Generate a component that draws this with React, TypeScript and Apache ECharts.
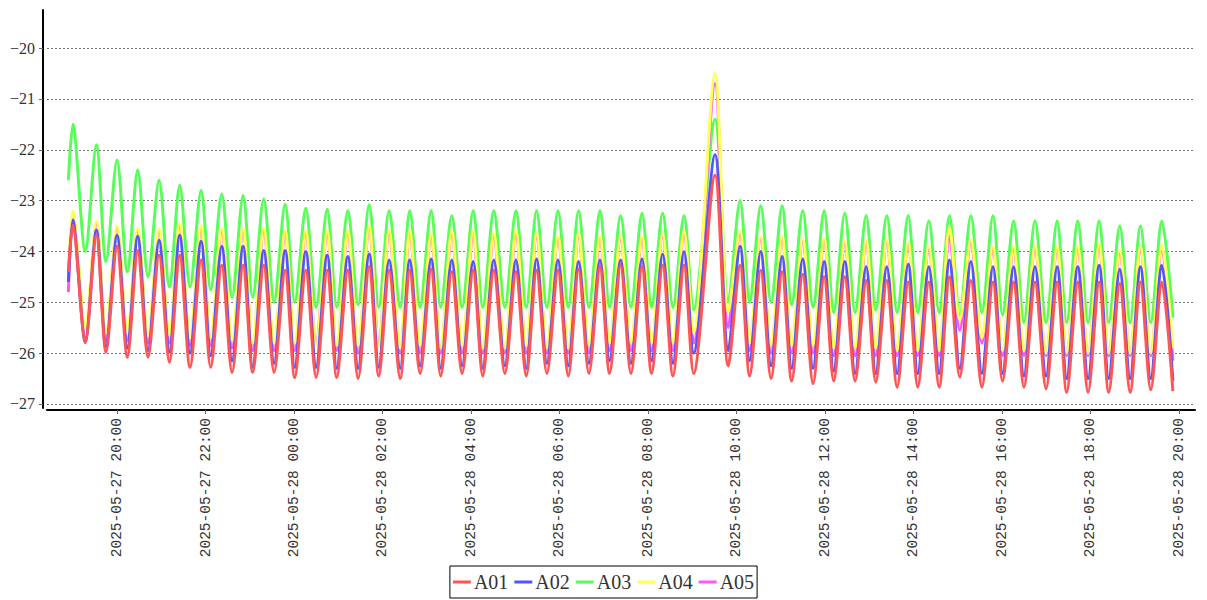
import React, { useEffect, useRef } from "react";
import * as echarts from "echarts";

// minutes after 2025-05-27 20:00
const times = [
  -66, -60, -43, -28, -15, 0, 14, 28, 42, 57,
  71, 85, 99, 114, 127, 142, 156, 171, 184, 199,
  213, 228, 241, 256, 270, 285, 298, 313, 327, 342,
  355, 369, 384, 397, 411, 426, 439, 454, 468, 483,
  496, 511, 526, 541, 555, 569, 583, 598, 612, 626,
  640, 655, 668, 683, 697, 712, 725, 740, 754, 769,
  782, 811, 829, 845, 858, 873, 887, 902, 915, 930,
  944, 959, 972, 987, 1001, 1016, 1029, 1044, 1058, 1073,
  1086, 1101, 1115, 1129, 1143, 1158, 1173, 1188, 1201, 1216,
  1230, 1245, 1260, 1275, 1288, 1303, 1317, 1332, 1345, 1360,
  1374, 1388, 1402, 1417, 1432,
];

const a01 = [
  -24.4, -23.48, -25.79, -23.68, -25.98, -23.9, -26.08, -23.98, -26.08, -24.07,
  -26.18, -24.07, -26.28, -24.17, -26.28, -24.27, -26.38, -24.27, -26.38, -24.27,
  -26.38, -24.37, -26.48, -24.37, -26.48, -24.37, -26.48, -24.37, -26.5, -24.3,
  -26.45, -24.37, -26.5, -24.37, -26.4, -24.35, -26.45, -24.4, -26.4, -24.37,
  -26.45, -24.37, -26.4, -24.4, -26.45, -24.37, -26.4, -24.37, -26.45, -24.35,
  -26.4, -24.3, -26.4, -24.27, -26.4, -24.3, -26.4, -24.27, -26.45, -24.27,
  -26.4, -22.5, -26.25, -24.27, -26.45, -24.37, -26.5, -24.4, -26.55, -24.45,
  -26.6, -24.5, -26.55, -24.5, -26.55, -24.57, -26.57, -24.57, -26.67, -24.6,
  -26.67, -24.6, -26.67, -24.5, -26.47, -24.57, -26.67, -24.6, -26.55, -24.6,
  -26.67, -24.6, -26.7, -24.6, -26.77, -24.6, -26.77, -24.6, -26.77, -24.63,
  -26.77, -24.6, -26.72, -24.6, -26.75,
];

const a02 = [
  -24.6, -23.38, -25.79, -23.58, -25.88, -23.68, -25.9, -23.7, -25.95, -23.78,
  -25.98, -23.68, -26.0, -23.8, -26.05, -23.9, -26.15, -23.9, -26.28, -23.98,
  -26.2, -23.98, -26.28, -24.0, -26.28, -24.07, -26.3, -24.1, -26.3, -24.05,
  -26.28, -24.17, -26.3, -24.17, -26.25, -24.15, -26.3, -24.17, -26.25, -24.2,
  -26.3, -24.17, -26.25, -24.17, -26.3, -24.15, -26.2, -24.17, -26.25, -24.2,
  -26.2, -24.17, -26.15, -24.17, -26.2, -24.15, -26.15, -24.05, -26.2, -24.0,
  -26.0, -22.1, -25.95, -23.9, -26.15, -24.0, -26.25, -24.1, -26.3, -24.15,
  -26.3, -24.2, -26.35, -24.2, -26.4, -24.3, -26.4, -24.3, -26.4, -24.25,
  -26.4, -24.3, -26.4, -24.17, -26.3, -24.2, -26.4, -24.3, -26.4, -24.3,
  -26.45, -24.3, -26.45, -24.3, -26.5, -24.3, -26.5, -24.27, -26.5, -24.35,
  -26.5, -24.3, -26.5, -24.27, -26.55,
];

const a03 = [
  -22.6, -21.5, -24.0, -21.9, -24.2, -22.2, -24.4, -22.4, -24.5, -22.6,
  -24.7, -22.7, -24.7, -22.8, -24.75, -22.87, -24.9, -22.9, -24.9, -22.97,
  -25.0, -23.07, -25.0, -23.15, -25.1, -23.17, -25.1, -23.2, -25.05, -23.08,
  -25.1, -23.2, -25.1, -23.2, -25.1, -23.2, -25.1, -23.3, -25.1, -23.2,
  -25.1, -23.2, -25.1, -23.2, -25.1, -23.2, -25.1, -23.2, -25.1, -23.2,
  -25.1, -23.2, -25.1, -23.3, -25.1, -23.25, -25.1, -23.25, -25.1, -23.3,
  -25.15, -21.4, -25.0, -23.0, -25.0, -23.1, -25.0, -23.1, -25.05, -23.2,
  -25.1, -23.2, -25.2, -23.25, -25.2, -23.3, -25.15, -23.3, -25.2, -23.3,
  -25.2, -23.4, -25.2, -23.3, -25.25, -23.3, -25.2, -23.3, -25.25, -23.4,
  -25.4, -23.4, -25.4, -23.4, -25.4, -23.4, -25.4, -23.4, -25.4, -23.5,
  -25.4, -23.5, -25.4, -23.4, -25.3,
];

const a04 = [
  -24.3, -23.2, -25.5, -23.4, -25.6, -23.5, -25.6, -23.55, -25.65, -23.55,
  -25.65, -23.45, -25.7, -23.5, -25.7, -23.55, -25.75, -23.55, -25.8, -23.55,
  -25.8, -23.6, -25.8, -23.6, -25.85, -23.6, -25.85, -23.6, -25.85, -23.5,
  -25.85, -23.6, -25.9, -23.6, -25.85, -23.65, -25.9, -23.6, -25.85, -23.6,
  -25.9, -23.65, -25.9, -23.6, -25.85, -23.65, -25.9, -23.7, -25.9, -23.65,
  -25.85, -23.7, -25.8, -23.7, -25.8, -23.7, -25.8, -23.65, -25.8, -23.6,
  -25.6, -20.5, -25.2, -23.6, -25.8, -23.7, -25.85, -23.7, -25.85, -23.75,
  -25.85, -23.75, -25.9, -23.8, -25.9, -23.78, -25.9, -23.77, -25.95, -23.82,
  -25.95, -23.9, -25.95, -23.52, -25.35, -23.77, -25.7, -23.9, -25.95, -23.9,
  -25.95, -23.9, -26.0, -23.9, -26.0, -23.9, -26.0, -23.85, -26.0, -23.98,
  -26.0, -23.9, -26.0, -23.88, -25.9,
];

const a05 = [
  -24.8, -23.25, -25.7, -23.45, -25.75, -23.55, -25.75, -23.6, -25.8, -23.6,
  -25.8, -23.5, -25.85, -23.55, -25.85, -23.6, -25.9, -23.6, -25.95, -23.6,
  -25.95, -23.65, -25.95, -23.65, -25.8, -23.65, -25.95, -23.65, -26.0, -23.55,
  -25.8, -23.65, -26.0, -23.65, -26.0, -23.7, -26.0, -23.65, -26.0, -23.65,
  -26.0, -23.7, -26.0, -23.65, -26.0, -23.7, -26.0, -23.75, -26.0, -23.7,
  -26.0, -23.75, -25.95, -23.75, -25.95, -23.75, -25.95, -23.7, -25.95, -23.65,
  -25.8, -20.7, -25.5, -23.65, -25.95, -23.75, -26.0, -23.75, -26.0, -23.8,
  -26.0, -23.8, -26.05, -23.85, -26.05, -23.83, -26.05, -23.82, -26.05, -23.87,
  -26.05, -23.95, -26.05, -23.7, -25.55, -23.82, -25.8, -23.95, -26.05, -23.95,
  -26.05, -23.95, -26.05, -23.95, -26.05, -23.95, -26.05, -23.9, -26.05, -24.03,
  -26.05, -23.95, -26.05, -23.93, -26.15,
];

const seriesNames = ["A01", "A02", "A03", "A04", "A05"];
const seriesValues = [a01, a02, a03, a04, a05];
const seriesColors = ["#ff5555", "#5555ff", "#55ff55", "#ffff55", "#ff55ff"];
const seriesZ = [6, 5, 2, 4, 3];

const xTickMinutes = [0, 120, 240, 360, 480, 600, 720, 840, 960, 1080, 1200, 1320, 1440];
const yTicks = [-27, -26, -25, -24, -23, -22, -21, -20];

const pad = (n: number) => (n < 10 ? "0" + n : "" + n);
const fmtTime = (v: number) => {
  const total = 20 * 60 + v;
  const day = 27 + Math.floor(total / 1440);
  const rem = ((total % 1440) + 1440) % 1440;
  return `2025-05-${pad(day)} ${pad(Math.floor(rem / 60))}:${pad(rem % 60)}`;
};

export default function App() {
  const ref = useRef<HTMLDivElement>(null);
  useEffect(() => {
    if (!ref.current) return;
    const chart = echarts.init(ref.current, null, { renderer: "svg" });
    chart.setOption({
      animation: false,
      backgroundColor: "#ffffff",
      grid: { left: 47, right: 12, top: 10, bottom: 192, containLabel: false },
      legend: {
        data: seriesNames,
        bottom: 2,
        left: "center",
        icon: "rect",
        itemWidth: 18,
        itemHeight: 3,
        itemGap: 6,
        padding: [6, 3, 6, 3],
        borderColor: "#000",
        borderWidth: 1,
        textStyle: { fontFamily: "Liberation Serif", fontSize: 20, color: "#333", padding: [0, 0, 0, -2] },
      },
      xAxis: {
        type: "value",
        min: -95,
        max: 1462,
        minInterval: 120,
        maxInterval: 120,
        offset: 2,
        axisLine: { show: true, onZero: false, lineStyle: { color: "#000", width: 2 } },
        axisTick: { show: true, length: 4, lineStyle: { color: "#666" }, customValues: xTickMinutes },
        axisLabel: {
          rotate: 90,
          margin: 8,
          customValues: xTickMinutes,
          formatter: (v: number) => fmtTime(v),
          fontFamily: "Liberation Mono",
          fontSize: 14.5,
          color: "#333",
        },
        splitLine: { show: false },
      },
      yAxis: {
        type: "value",
        min: -27.08,
        max: -19.25,
        minInterval: 1,
        maxInterval: 1,
        offset: 4,
        axisLine: { show: true, onZero: false, lineStyle: { color: "#000", width: 2 } },
        axisTick: { show: true, length: 4, lineStyle: { color: "#666" }, customValues: yTicks },
        axisLabel: {
          margin: 8,
          customValues: yTicks,
          formatter: (v: number) => (v < 0 ? "\u2212" : "") + Math.abs(Math.round(v)),
          fontFamily: "Liberation Serif",
          fontSize: 16,
          color: "#333",
        },
        splitLine: {
          show: true,
          lineStyle: { color: "#777", type: [2, 2], width: 1 },
        },
      },
      series: seriesNames.map((name, k) => ({
        name,
        type: "line",
        data: times.map((t, i) => [t, seriesValues[k][i]]),
        showSymbol: false,
        symbol: "none",
        smooth: 0.3,
        z: seriesZ[k],
        color: seriesColors[k],
        lineStyle: { width: 3, color: seriesColors[k] },
      })),
    });
    return () => chart.dispose();
  }, []);
  return (
    <div
      ref={ref}
      style={{ position: "absolute", left: 0, top: 0, width: 1207, height: 600 }}
    />
  );
}
